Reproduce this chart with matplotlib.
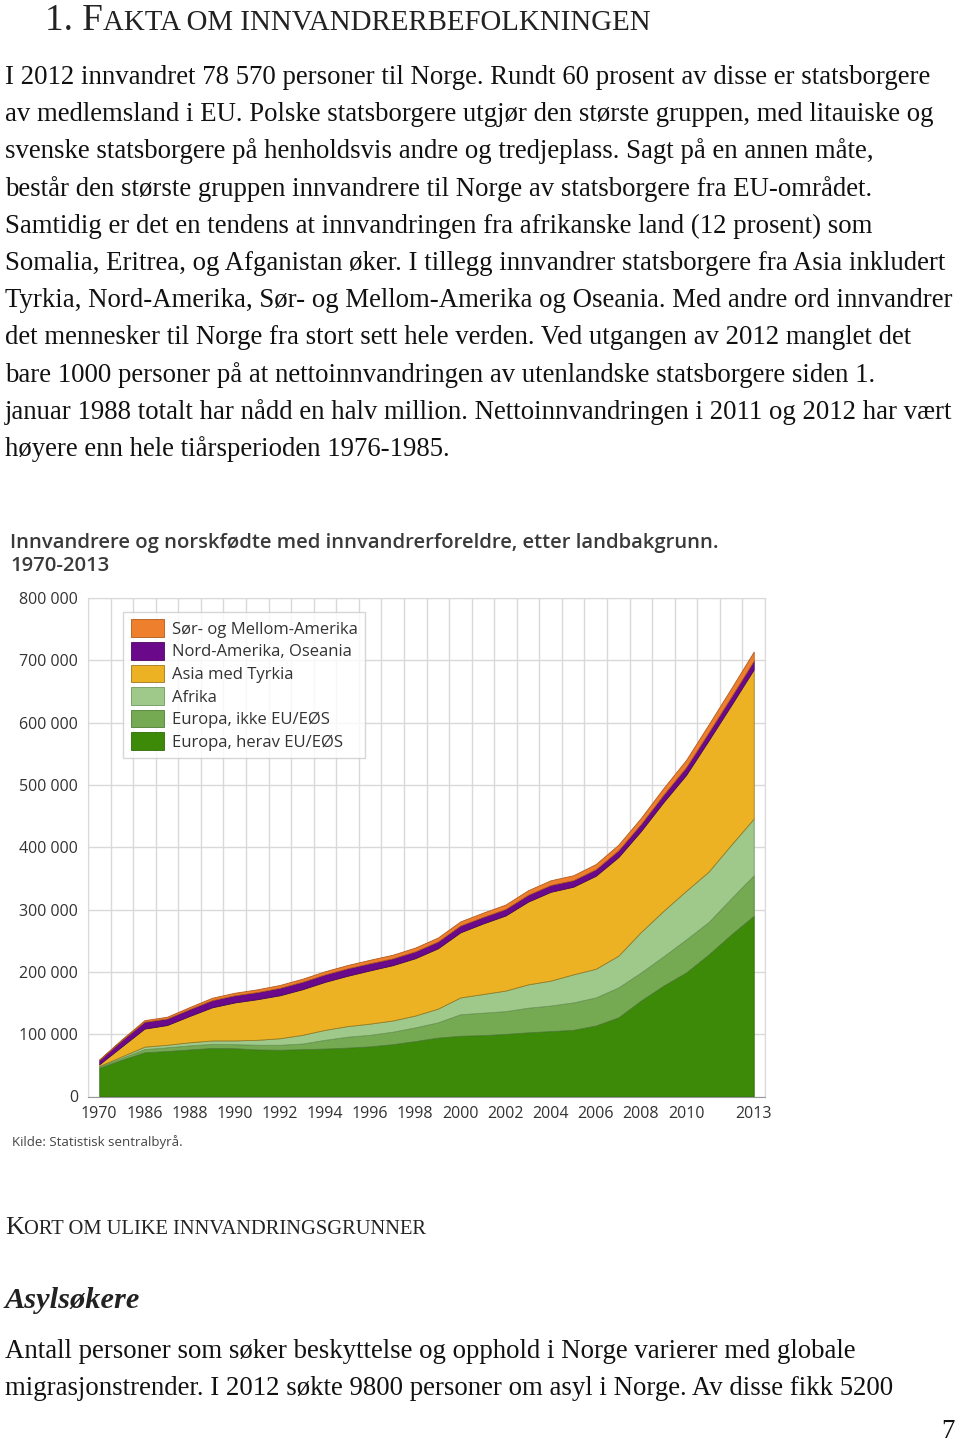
import numpy as np
import matplotlib.pyplot as plt
from matplotlib.patches import Patch
from matplotlib.ticker import FuncFormatter

W, H = 960, 1442
plt.rcParams['font.family'] = ['Open Sans', 'DejaVu Sans']

# categories (1980 sits between 1970 and 1986 without a label)
years = ["1970", "1980"] + [str(y) for y in range(1986, 2014)]

# values in thousands
eu = [46, 59, 71, 73, 75.5, 78, 77.5, 75.5, 75, 76, 77, 78.5, 80.5, 84, 89,
      94.5, 97.5, 98.5, 100.5, 103, 105, 107, 114, 127, 154, 178, 199, 228, 260, 290]
non_eu = [2, 3, 5, 6, 6.5, 6.5, 6.5, 7.5, 8, 9, 14, 17.5, 18.5, 20, 22,
          24.5, 34.5, 36, 36.5, 39.5, 41, 44, 45, 48, 45, 47, 53, 52, 58, 65]
afrika = [1, 2.5, 4, 4, 5, 5.5, 6, 8, 10.5, 14, 16, 17, 18, 18, 19,
          22, 27, 30, 33, 37.5, 40, 45, 46, 51, 65, 73, 78, 81, 86, 91]
asia = [2.8, 16, 29, 31.7, 42.3, 53.2, 61, 65.2, 69, 73.2, 77, 80.8, 85.5, 88.8, 92,
        96.8, 104.5, 113.2, 120.5, 132.8, 142.5, 140.7, 149.3, 158.2, 162, 174.5, 186, 210.5, 224, 239.5]
nord_am = [7, 10, 11, 10.5, 11, 11.5, 11.5, 11.5, 12, 12, 12, 12, 11.5, 11, 11,
           11, 11, 10.5, 10.5, 11, 11, 10.5, 10.5, 11, 11.5, 12, 12.5, 13, 13.5, 14]
sor_am = [0.7, 1.5, 2.5, 2.8, 3.2, 3.8, 4, 4.3, 4.5, 4.8, 5, 5.2, 5.5, 5.7, 6,
          6.2, 6.5, 6.8, 7, 7.2, 7.5, 7.8, 8.2, 8.8, 9.5, 10.5, 11.5, 12.5, 13.5, 14.5]

series = [eu, non_eu, afrika, asia, nord_am, sor_am]
labels = ["Europa, herav EU/EØS", "Europa, ikke EU/EØS", "Afrika",
          "Asia med Tyrkia", "Nord-Amerika, Oseania", "Sør- og Mellom-Amerika"]
colors = ["#3c8a08", "#76aa52", "#9fc98a", "#ecb224", "#6a0a8a", "#ee7f2d"]
edges = ["#2e6a06", "#4f7f36", "#6f9a5c", "#9a7a20", "#4a0560", "#b25a1c"]

body = [
    "I 2012 innvandret 78 570 personer til Norge. Rundt 60 prosent av disse er statsborgere",
    "av medlemsland i EU. Polske statsborgere utgjør den største gruppen, med litauiske og",
    "svenske statsborgere på henholdsvis andre og tredjeplass. Sagt på en annen måte,",
    "består den største gruppen innvandrere til Norge av statsborgere fra EU-området.",
    "Samtidig er det en tendens at innvandringen fra afrikanske land (12 prosent) som",
    "Somalia, Eritrea, og Afganistan øker. I tillegg innvandrer statsborgere fra Asia inkludert",
    "Tyrkia, Nord-Amerika, Sør- og Mellom-Amerika og Oseania. Med andre ord innvandrer",
    "det mennesker til Norge fra stort sett hele verden. Ved utgangen av 2012 manglet det",
    "bare 1000 personer på at nettoinnvandringen av utenlandske statsborgere siden 1.",
    "januar 1988 totalt har nådd en halv million. Nettoinnvandringen i 2011 og 2012 har vært",
    "høyere enn hele tiårsperioden 1976-1985.",
]
body2 = [
    "Antall personer som søker beskyttelse og opphold i Norge varierer med globale",
    "migrasjonstrender. I 2012 søkte 9800 personer om asyl i Norge. Av disse fikk 5200",
]

fig = plt.figure(figsize=(W / 100, H / 100), dpi=100)
renderer = fig.canvas.get_renderer()
SERIF = ['Liberation Serif', 'DejaVu Serif']


def put(x, y, s, size, **kw):
    return fig.text(x / W, 1 - y / H, s, fontsize=size, va='baseline', **kw)


def fitted_size(s, size, width, **kw):
    t = put(0, 0, s, size, **kw)
    w = t.get_window_extent(renderer).width
    t.remove()
    return size * width / w


def small_caps(x, y, pieces, width, **kw):
    # pieces: (text, relative size); scaled so the whole run spans `width`
    texts = []
    cx = x
    for s, rel in pieces:
        t = put(cx, y, s, 20 * rel, **kw)
        cx += t.get_window_extent(renderer).width
        texts.append(t)
    k = width / (cx - x)
    cx = x
    for t, (s, rel) in zip(texts, pieces):
        t.set_fontsize(20 * rel * k)
        t.set_x(cx / W)
        cx += t.get_window_extent(renderer).width


# page text
small_caps(45, 30, [("1. F", 1.0), ("AKTA OM INNVANDRERBEFOLKNINGEN", 0.78)], 607,
           family=SERIF, color='#222222')
bsize = fitted_size(body[0], 17, 926, family=SERIF)
for i, line in enumerate(body):
    put(5, 84 + 37.2 * i, line, bsize, family=SERIF, color='#111111')

small_caps(5, 1234, [("K", 1.0), ("ORT OM ULIKE INNVANDRINGSGRUNNER", 0.78)], 422,
           family=SERIF, color='#222222')
asize = fitted_size("Asylsøkere", 18, 135, family=SERIF, weight='bold', style='italic')
put(5, 1308, "Asylsøkere", asize, family=SERIF, weight='bold', style='italic', color='#222222')
for i, line in enumerate(body2):
    put(5, 1358 + 37.2 * i, line, bsize, family=SERIF, color='#111111')
put(955, 1438, "7", bsize, family=SERIF, color='#111111', ha='right')

# chart title and source
tsize = fitted_size("Innvandrere og norskfødte med innvandrerforeldre, etter landbakgrunn.",
                    14, 717, weight='semibold')
put(10, 548, "Innvandrere og norskfødte med innvandrerforeldre, etter landbakgrunn.",
    tsize, weight='semibold', color='#3a3a3a')
put(10, 571, "1970-2013", tsize, weight='semibold', color='#3a3a3a')
put(12, 1146, "Kilde: Statistisk sentralbyrå.", 9.5, color='#444444')

# chart
ax = fig.add_axes([88 / W, 1 - 1096.5 / H, (765 - 88) / W, (1096.5 - 598) / H])
x = np.arange(len(years))
polys = ax.stackplot(x, [np.array(s) * 1000 for s in series], colors=colors, linewidth=0.6)
for p, e in zip(polys, edges):
    p.set_edgecolor(e)

ax.set_xlim(-0.5, len(years) - 0.5)
ax.set_ylim(0, 800000)
ax.set_yticks(np.arange(0, 800001, 100000))
ax.yaxis.set_major_formatter(FuncFormatter(lambda v, p: f"{int(v):,}".replace(",", " ")))
tick_idx = list(range(0, 27, 2)) + [29]
ax.set_xticks(tick_idx)
ax.set_xticklabels([years[i] for i in tick_idx])
ax.set_xticks(np.arange(-0.5, len(years)), minor=True)
ax.grid(axis='x', which='minor', color='#d9d9d9', lw=1)
ax.grid(axis='y', which='major', color='#d9d9d9', lw=1)
ax.set_axisbelow(True)
ax.tick_params(which='both', length=0, labelsize=11.5, colors='#333333')
ax.tick_params(axis='y', pad=7)
ax.tick_params(axis='x', pad=7)
for side in ['left', 'top', 'right']:
    ax.spines[side].set_color('#d9d9d9')
ax.spines['bottom'].set_color('#999999')

handles = [Patch(facecolor=c, edgecolor=e, lw=0.6) for c, e in zip(colors, edges)][::-1]
leg = ax.legend(handles, labels[::-1], loc='upper left', bbox_to_anchor=(0.052, 0.972),
                fontsize=12, frameon=True, fancybox=False, edgecolor='#cccccc',
                handlelength=2.0, handleheight=1.25, handletextpad=0.45,
                labelspacing=0.25, borderpad=0.45, borderaxespad=0)
leg.get_frame().set_linewidth(1)
for t in leg.get_texts():
    t.set_color('#333333')

fig.savefig("out.png", dpi=100)
